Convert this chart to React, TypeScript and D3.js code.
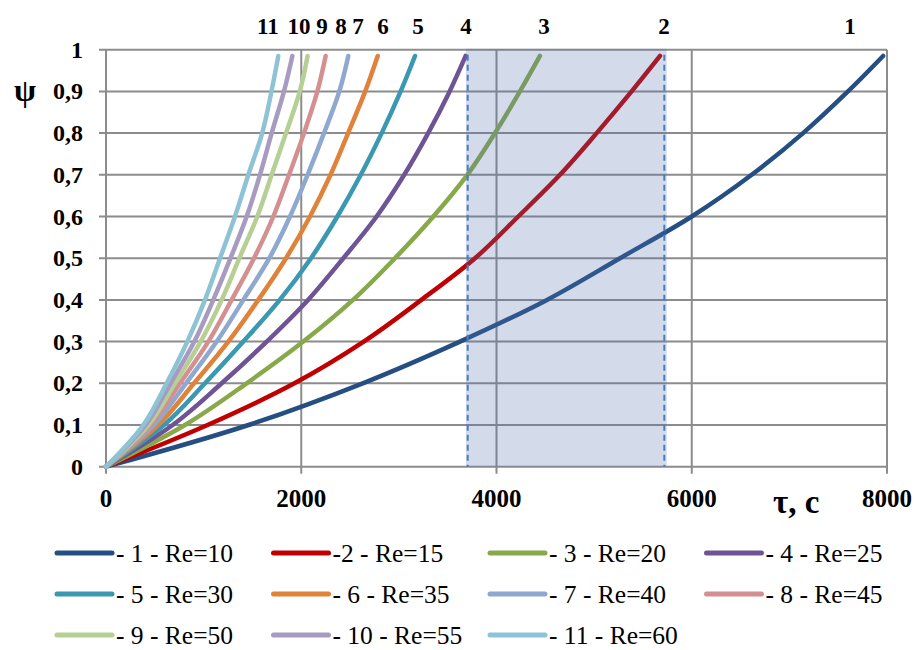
import React, { useEffect, useRef } from 'react';
import * as d3 from 'd3';

const psiLevels = [0, 0.1, 0.2, 0.3, 0.4, 0.5, 0.6, 0.7, 0.8, 0.9, 0.985];

const tau1 = [0, 1460, 2630, 3626, 4517, 5265, 6000, 6614, 7140, 7600, 7960];
const tau2 = [0, 1040, 1930, 2640, 3230, 3780, 4223, 4650, 5026, 5384, 5675];
const tau3 = [0, 809, 1441, 2021, 2530, 2960, 3353, 3701, 3984, 4240, 4445];
const tau4 = [0, 683, 1185, 1646, 2070, 2431, 2772, 3055, 3300, 3520, 3684];
const tau5 = [0, 594, 1014, 1407, 1780, 2100, 2370, 2610, 2824, 3018, 3165];
const tau6 = [0, 536, 901, 1253, 1560, 1844, 2090, 2300, 2480, 2655, 2783];
const tau7 = [0, 492, 819, 1134, 1407, 1673, 1885, 2065, 2233, 2390, 2482];
const tau8 = [0, 457, 758, 1048, 1287, 1516, 1714, 1875, 2028, 2165, 2250];
const tau9 = [0, 434, 707, 970, 1185, 1366, 1550, 1697, 1844, 1985, 2065];
const tau10 = [0, 406, 662, 905, 1099, 1275, 1441, 1577, 1697, 1823, 1909];
const tau11 = [0, 382, 621, 833, 1014, 1168, 1321, 1458, 1600, 1695, 1765];

const seriesTau = [tau1, tau2, tau3, tau4, tau5, tau6, tau7, tau8, tau9, tau10, tau11];
const seriesNames = [
  '- 1 - Re=10', '-2 - Re=15', '- 3 - Re=20', '- 4 - Re=25',
  '- 5 - Re=30', '- 6 - Re=35', '- 7 - Re=40', '- 8 - Re=45',
  '- 9 - Re=50', '- 10 - Re=55', '- 11 - Re=60'
];
const seriesColors = [
  '#254E82', '#C00000', '#88A94A', '#6E5494', '#3A98B0', '#E0823A',
  '#8EA8D0', '#D49090', '#B5CF94', '#A89BC2', '#8EC3D6'
];
// curve numbers printed above the plot, at these tau positions
const curveLabels = ['1', '2', '3', '4', '5', '6', '7', '8', '9', '10', '11'];
const curveLabelTau = [7621, 5716, 4486, 3687, 3196, 2837, 2581, 2407, 2212, 1977, 1659];

const xTicks = [0, 2000, 4000, 6000, 8000];
const yTicks = [0, 0.1, 0.2, 0.3, 0.4, 0.5, 0.6, 0.7, 0.8, 0.9, 1];
const yTickLabels = ['0', '0,1', '0,2', '0,3', '0,4', '0,5', '0,6', '0,7', '0,8', '0,9', '1'];

// highlighted interval and its dashed borders
const bandRange = [3687, 5743];
const bandLines = [3705, 5719];

const FONT = 'Liberation Serif, Times New Roman, serif';

export default function App() {
  const svgRef = useRef<SVGSVGElement>(null);

  useEffect(() => {
    if (!svgRef.current) return;
    const svg = d3.select(svgRef.current);
    svg.selectAll('*').remove();

    const x = d3.scaleLinear().domain([0, 8000]).range([106, 887]);
    const y = d3.scaleLinear().domain([0, 1]).range([466.7, 49.7]);

    // grid
    const grid = svg.append('g').attr('stroke', '#8C8C8C').attr('stroke-width', 2);
    yTicks.forEach(t => {
      grid.append('line')
        .attr('x1', x(0) - 7).attr('x2', x(8000))
        .attr('y1', y(t)).attr('y2', y(t));
    });
    xTicks.forEach(t => {
      grid.append('line')
        .attr('x1', x(t)).attr('x2', x(t))
        .attr('y1', y(1)).attr('y2', y(0) + 7);
    });

    // curves
    const line = d3.line<[number, number]>()
      .x(d => x(d[0]))
      .y(d => y(d[1]))
      .curve(d3.curveCatmullRom.alpha(0.5));

    seriesTau.forEach((taus, i) => {
      const pts: [number, number][] = taus.map((t, k) => [t, psiLevels[k]]);
      svg.append('path')
        .attr('d', line(pts))
        .attr('fill', 'none')
        .attr('stroke', seriesColors[i])
        .attr('stroke-width', 4.5)
        .attr('stroke-linecap', 'round')
        .attr('stroke-linejoin', 'round');
    });

    // translucent band over the curves
    svg.append('rect')
      .attr('x', x(bandRange[0]))
      .attr('y', y(1) - 1)
      .attr('width', x(bandRange[1]) - x(bandRange[0]))
      .attr('height', y(0) - y(1) + 1)
      .attr('fill', '#4F6FB0')
      .attr('fill-opacity', 0.25);

    bandLines.forEach(t => {
      svg.append('line')
        .attr('x1', x(t)).attr('x2', x(t))
        .attr('y1', y(1) + 5).attr('y2', y(0))
        .attr('stroke', '#4A7CC4')
        .attr('stroke-width', 2)
        .attr('stroke-dasharray', '6,4');
    });

    const addText = (tx: number, ty: number, s: string, size: number, bold: boolean, anchor = 'start') =>
      svg.append('text')
        .attr('x', tx).attr('y', ty)
        .attr('text-anchor', anchor)
        .attr('font-family', FONT)
        .attr('font-size', size)
        .attr('font-weight', bold ? 'bold' : 'normal')
        .attr('fill', '#000')
        .text(s);

    // y tick labels
    yTicks.forEach((t, i) => {
      addText(83, y(t) + 8, yTickLabels[i], 24, true, 'end');
    });

    // x tick labels
    xTicks.forEach(t => {
      addText(x(t), 507, String(t), 25, true, 'middle');
    });

    // curve numbers
    curveLabels.forEach((l, i) => {
      addText(x(curveLabelTau[i]), 34, l, 23, true, 'middle');
    });

    // axis titles
    addText(25, 101, 'ψ', 32, true, 'middle');
    addText(773, 513, 'τ, c', 33, true);

    // legend
    seriesNames.forEach((name, i) => {
      const col = i % 4;
      const row = Math.floor(i / 4);
      const lx = 57 + col * 216.5;
      const ly = 553 + row * 41;
      svg.append('line')
        .attr('x1', lx).attr('x2', lx + 55)
        .attr('y1', ly).attr('y2', ly)
        .attr('stroke', seriesColors[i])
        .attr('stroke-width', 5)
        .attr('stroke-linecap', 'round');
      addText(lx + 59, ly + 8.5, name, 25.5, false);
    });
  }, []);

  return (
    <div style={{ position: 'absolute', left: 0, top: 0, background: '#fff' }}>
      <svg ref={svgRef} width={917} height={650}></svg>
    </div>
  );
}
